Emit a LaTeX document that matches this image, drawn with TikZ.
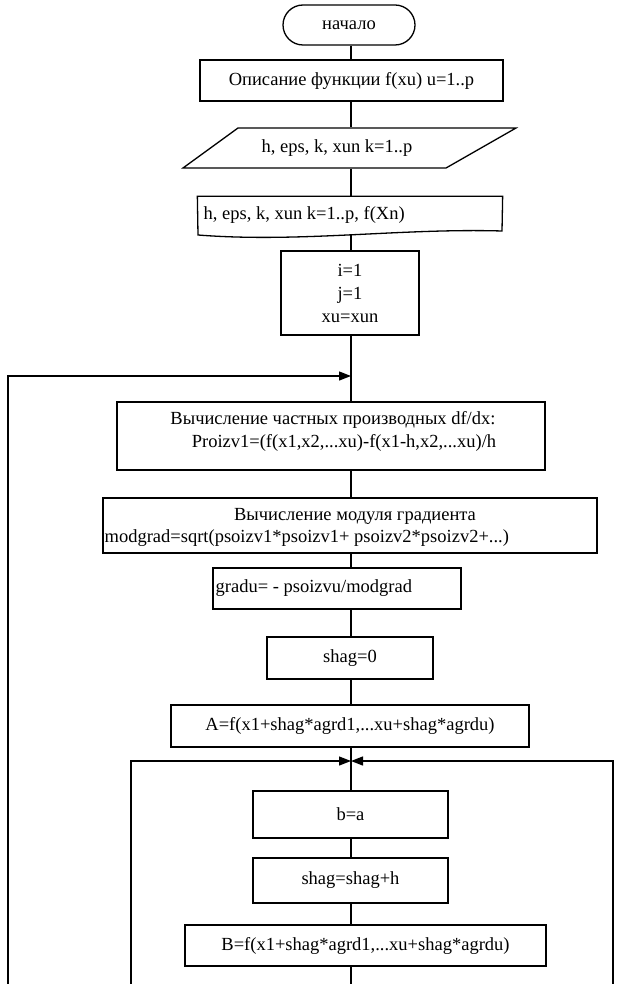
\documentclass[tikz,border=0pt]{standalone}
\usepackage{fontspec}
\setmainfont{Liberation Serif}
\usetikzlibrary{arrows.meta}
\begin{document}
\begin{tikzpicture}[x=1pt,y=-1pt,line width=1.3pt,
  box/.style={draw,rectangle,inner sep=0pt},
  txt/.style={font=\fontsize{18.5}{23}\selectfont,inner sep=0pt},
  arr/.style={-{Triangle[length=12pt,width=9pt]}}]
\useasboundingbox (0,0) rectangle (618,984);
\fill[white] (0,0) rectangle (618,984);
\coordinate (ax) at (351,0);
% terminal
\node[box,txt,rounded corners=20pt,minimum width=132pt,minimum height=40pt] (start) at (349,25) {начало};
\node[box,txt,minimum width=303pt,minimum height=41pt] (desc) at (351.5,80.5) {Описание функции f(xu) u=1..p};
% parallelogram
\node[txt,minimum height=40pt] (inp) at (337,148) {h, eps, k, xun k=1..p};
\draw (183,168) -- (238,128) -- (516,128) -- (446,168) -- cycle;
% document
\node[minimum width=304pt,minimum height=38pt,inner sep=0pt] (doc) at (350,216) {};
\draw (doc.north west) -- (doc.north east) -- (502,231) .. controls (400,228) and (300,243) .. (198,235) -- cycle;
\node[txt,anchor=west] (doctxt) at (203,215) {h, eps, k, xun k=1..p, f(Xn)};
\coordinate (docb) at (351,235);
% init
\node[box,txt,align=center,minimum width=138pt,minimum height=84pt] (init) at (350,293) {i=1\\j=1\\xu=xun};
\coordinate (j1) at (351,376);
\coordinate (l1) at (8,376);
\coordinate (l1b) at (8,984);
% derivative
\node[box,minimum width=428pt,minimum height=68pt] (der) at (331,436) {};
\node[txt,align=center] (dertxt) at (333,431) {Вычисление частных производных df/dx:\\\hspace*{22pt}Proizv1=(f(x1,x2,...xu)-f(x1-h,x2,...xu)/h};
% modgrad
\node[box,minimum width=494pt,minimum height=55pt] (mod) at (350,525.5) {};
\node[txt] (modt1) at (355,516) {Вычисление модуля градиента};
\node[txt,anchor=west] (modt2) at (104,538) {modgrad=sqrt(psoizv1*psoizv1+ psoizv2*psoizv2+...)};
% gradu
\node[box,minimum width=248pt,minimum height=41pt] (gradu) at (337,588.5) {};
\node[txt,anchor=west] (gradut) at (215,588) {gradu= - psoizvu/modgrad};
\node[box,txt,minimum width=166pt,minimum height=42pt] (shag0) at (350,658) {shag=0};
\node[box,txt,minimum width=358pt,minimum height=42pt] (A) at (350,726) {A=f(x1+shag*agrd1,...xu+shag*agrdu)};
\coordinate (j2) at (351,761);
\coordinate (l2) at (131,761);
\coordinate (l2b) at (131,984);
\coordinate (r2) at (613,761);
\coordinate (r2b) at (613,984);
\node[box,txt,minimum width=195pt,minimum height=47pt] (ba) at (350.5,814.5) {b=a};
\node[box,txt,minimum width=195pt,minimum height=45pt] (sh) at (350.5,880.5) {shag=shag+h};
\node[box,txt,minimum width=361pt,minimum height=41pt] (B) at (365.5,945.5) {B=f(x1+shag*agrd1,...xu+shag*agrdu)};
\coordinate (bot) at (351,984);
% connectors
\draw (start.south -| ax) -- (desc.north -| ax);
\draw (desc.south -| ax) -- (inp.north -| ax);
\draw (inp.south -| ax) -- (doc.north -| ax);
\draw (docb) -- (init.north -| ax);
\draw (init.south -| ax) -- (j1) -- (der.north -| ax);
\draw[arr] (l1b) -- (l1) -- (j1);
\draw (der.south -| ax) -- (mod.north -| ax);
\draw (mod.south -| ax) -- (gradu.north -| ax);
\draw (gradu.south -| ax) -- (shag0.north -| ax);
\draw (shag0.south -| ax) -- (A.north -| ax);
\draw (A.south -| ax) -- (j2) -- (ba.north -| ax);
\draw[arr] (l2b) -- (l2) -- (j2);
\draw[arr] (r2b) -- (r2) -- (j2);
\draw (ba.south -| ax) -- (sh.north -| ax);
\draw (sh.south -| ax) -- (B.north -| ax);
\draw (B.south -| ax) -- (bot);
\end{tikzpicture}
\end{document}
